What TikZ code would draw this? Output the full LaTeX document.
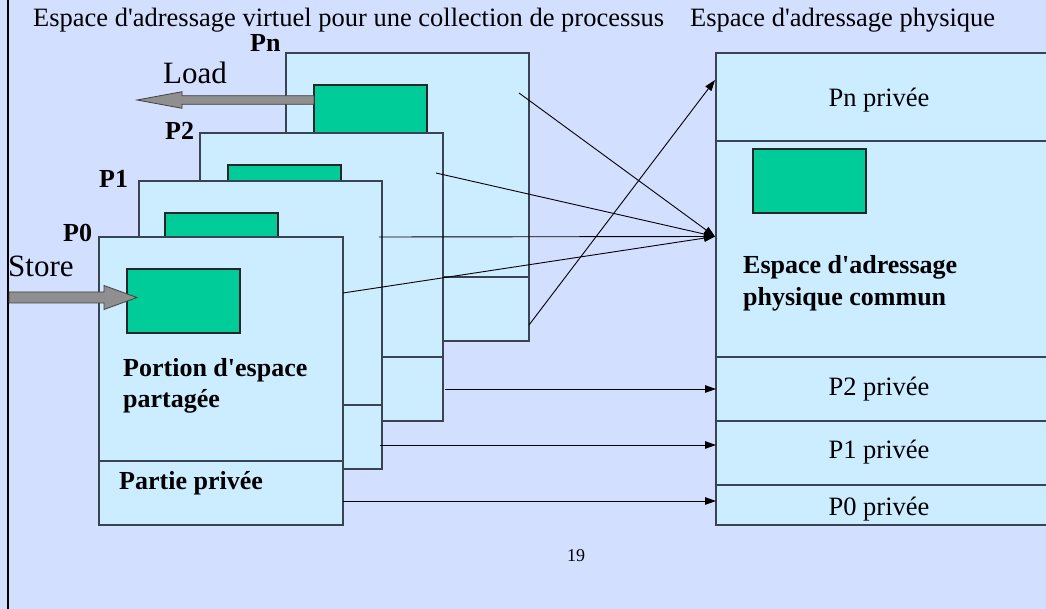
\documentclass[tikz,border=0pt]{standalone}
\usepackage{fontspec}
\newfontfamily\tnr{Liberation Serif}
\usetikzlibrary{arrows.meta,calc}
\definecolor{bgc}{HTML}{D3DFFE}
\definecolor{boxc}{HTML}{CCECFF}
\definecolor{grn}{HTML}{00CC99}
\definecolor{arrg}{HTML}{8F8F8F}
\definecolor{edgec}{HTML}{3A4350}
\begin{document}
\begin{tikzpicture}[x=1pt,y=-1pt,
  box/.style={draw=edgec, fill=boxc, line width=1.2pt, inner sep=0pt, outer sep=0pt, anchor=north west},
  grnbox/.style={draw=black!85, fill=grn, line width=1.1pt, inner sep=0pt, outer sep=0pt, anchor=north west, minimum width=113pt, minimum height=64pt},
  vbox/.style={box, minimum width=243pt, minimum height=288pt},
  divl/.style={draw=edgec, line width=1.2pt},
  lbl/.style={inner sep=0pt, anchor=base west, font=\tnr\fontsize{26.5}{30}\selectfont},
  blbl/.style={inner sep=0pt, anchor=base west, font=\tnr\fontsize{26}{30}\selectfont\bfseries},
  big/.style={inner sep=0pt, anchor=base west, font=\tnr\fontsize{31}{36}\selectfont},
  conn/.style={line width=0.9pt, -{Triangle[length=11pt,width=7.5pt]}},
  blockarrow/.style={draw=black!75, fill=arrg, line width=0.8pt},
]
\useasboundingbox (0,0) rectangle (1046,609);
\clip (0,0) rectangle (1046,609);
\fill[bgc] (0,0) rectangle (1046,609);
\draw[line width=2.3pt] (7.8,0) -- (7.8,609);

% titles
\node[lbl] (t1) at (33,27) {Espace d'adressage virtuel pour une collection de processus};
\node[lbl] (t2) at (690,27) {Espace d'adressage physique};

% Pn
\node[vbox] (pn) at (286,53) {};
\draw[divl] (286,277) -- (529,277);
\node[grnbox] (gn) at (314,85) {};
\node[blbl] (lpn) at (250,51.5) {Pn};
% P2
\node[vbox] (p2) at (200,133) {};
\draw[divl] (p2.west |- 0,357) -- (p2.east |- 0,357);
\node[grnbox] (g2) at (228,165) {};
\node[blbl] (lp2) at (165,140) {P2};
% P1
\node[vbox] (p1) at (139,181) {};
\draw[divl] (p1.west |- 0,405) -- (p1.east |- 0,405);
\node[grnbox] (g1) at (165,213) {};
\node[blbl] (lp1) at (99,188) {P1};
% P0
\node[vbox, minimum width=244pt] (p0) at (99,237) {};
\draw[divl] (p0.west |- 0,461) -- (p0.east |- 0,461);
\node[grnbox] (g0) at (127,269) {};
\node[blbl] (lp0) at (63,242) {P0};

\node[blbl] (por1) at (123,376) {Portion d'espace};
\node[blbl] (por2) at (123,407) {partagée};
\node[blbl] (ppr) at (119,489) {Partie privée};

% physical box
\node[box, minimum width=360pt, minimum height=472pt] (phys) at (716,53) {};
\draw[divl] (716,141) -- (1060,141);
\draw[divl] (716,357) -- (1060,357);
\draw[divl] (716,421) -- (1060,421);
\draw[divl] (716,485) -- (1060,485);
\node[grnbox] (gp) at (753,149) {};
\node[lbl, anchor=base] (pnp) at (879,107) {Pn privée};
\node[blbl] (com1) at (743,274) {Espace d'adressage};
\node[blbl] (com2) at (743,306) {physique commun};
\node[lbl, anchor=base] (p2p) at (879,395) {P2 privée};
\node[lbl, anchor=base] (p1p) at (879,458) {P1 privée};
\node[lbl, anchor=base] (p0p) at (879,515) {P0 privée};

% block arrows
\coordinate (loadstart) at (314,100);
\coordinate (loadtip) at (137,100);
\draw[blockarrow] ($(loadstart)+(0,-4.3)$) -- ($(loadtip)+(45,-4.3)$) -- ($(loadtip)+(45,-8.3)$)
  -- (loadtip) -- ($(loadtip)+(45,8.3)$) -- ($(loadtip)+(45,4.3)$) -- ($(loadstart)+(0,4.3)$) -- cycle;
\node[big] (load) at (163,84) {Load};

\coordinate (storestart) at (9,297.5);
\coordinate (storetip) at (137,297.5);
\draw[blockarrow] ($(storestart)+(0,-5.5)$) -- ($(storetip)+(-33,-5.5)$) -- ($(storetip)+(-33,-12)$)
  -- (storetip) -- ($(storetip)+(-33,12)$) -- ($(storetip)+(-33,5.5)$) -- ($(storestart)+(0,5.5)$) -- cycle;
\node[big] (store) at (8,277) {Store};

% connectors
\coordinate (s1) at (519,93);
\coordinate (s2) at (436,173);
\coordinate (s3) at (379,237);
\coordinate (s4) at (343,293);
\coordinate (s5) at (529,325);
\coordinate (s6) at (445,389);
\coordinate (s7) at (380,445);
\coordinate (s8) at (343,501);
\coordinate (tc) at (715,236.5);
\coordinate (tpn) at (715,80);
\draw[conn] (s1) -- (tc);
\draw[conn] (s2) -- (tc);
\draw[conn] (s3) -- (tc);
\draw[conn] (s4) -- (tc);
\draw[conn] (s5) -- (tpn);
\draw[conn] (s6) -- (phys.west |- s6);
\draw[conn] (s7) -- (phys.west |- s7);
\draw[conn] (s8) -- (phys.west |- s8);

\node[inner sep=0pt, anchor=base west, font=\tnr\fontsize{18}{20}\selectfont] (pg) at (567,561) {19};
\end{tikzpicture}
\end{document}
